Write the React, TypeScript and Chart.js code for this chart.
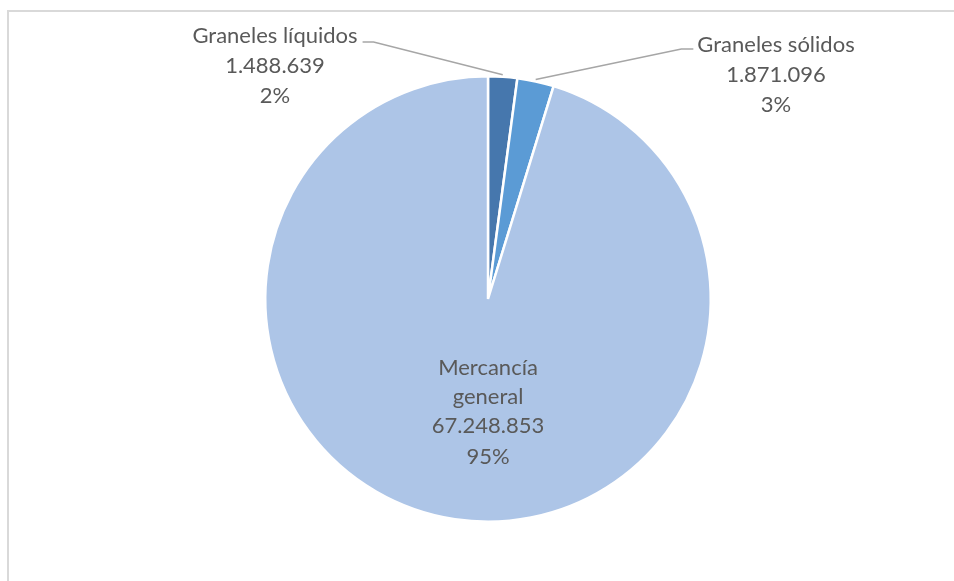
import React, { useEffect, useRef } from "react";
import { Chart, registerables } from "chart.js";

Chart.register(...registerables);

const categories = ["Graneles líquidos", "Graneles sólidos", "Mercancía general"];
const values = [1488639, 1871096, 67248853];
const percentLabels = ["2%", "3%", "95%"];
const valueLabels = ["1.488.639", "1.871.096", "67.248.853"];
const colors = ["#4677ad", "#5b9bd5", "#adc5e7"];

const FONT = "22px Lato, sans-serif";
const TEXT_COLOR = "#595959";

const labelPlugin = {
  id: "pieLabels",
  afterDraw(chart: any) {
    const ctx = chart.ctx;
    const meta = chart.getDatasetMeta(0);
    ctx.save();
    ctx.font = FONT;
    ctx.fillStyle = TEXT_COLOR;
    ctx.textAlign = "center";
    ctx.textBaseline = "middle";
    const lh = 30;

    const arcs = meta.data;
    const edge = (i: number) => {
      const a = arcs[i];
      const mid = (a.startAngle + a.endAngle) / 2;
      return { x: a.x + Math.cos(mid) * a.outerRadius, y: a.y + Math.sin(mid) * a.outerRadius };
    };

    const l0 = { x: 275, y: 36 };
    const l1 = { x: 776, y: 45 };
    [[categories[0], valueLabels[0], percentLabels[0], l0], [categories[1], valueLabels[1], percentLabels[1], l1]].forEach(
      (item: any) => {
        const [c, v, p, pos] = item;
        ctx.fillText(c, pos.x, pos.y);
        ctx.fillText(v, pos.x, pos.y + lh);
        ctx.fillText(p, pos.x, pos.y + lh * 2);
      }
    );

    ctx.strokeStyle = "#a6a6a6";
    ctx.lineWidth = 1.5;
    const w0 = ctx.measureText(categories[0]).width;
    const e0 = edge(0);
    ctx.beginPath();
    ctx.moveTo(l0.x + w0 / 2 + 5, 42);
    ctx.lineTo(l0.x + w0 / 2 + 16, 42);
    ctx.lineTo(e0.x, e0.y - 2);
    ctx.stroke();

    const w1 = ctx.measureText(categories[1]).width;
    const e1 = edge(1);
    ctx.beginPath();
    ctx.moveTo(l1.x - w1 / 2 - 4, 49);
    ctx.lineTo(l1.x - w1 / 2 - 16, 49);
    ctx.lineTo(e1.x, e1.y - 2);
    ctx.stroke();

    const a2 = arcs[2];
    const cx = a2.x;
    const top = 368;
    ctx.fillText("Mercancía", cx, top);
    ctx.fillText("general", cx, top + 29);
    ctx.fillText(valueLabels[2], cx, top + 58);
    ctx.fillText(percentLabels[2], cx, top + 89);
    ctx.restore();
  },
};

const framePlugin = {
  id: "frame",
  beforeDraw(chart: any) {
    const ctx = chart.ctx;
    ctx.save();
    ctx.fillStyle = "#ffffff";
    ctx.fillRect(0, 0, chart.width, chart.height);
    ctx.strokeStyle = "#d9d9d9";
    ctx.lineWidth = 2;
    ctx.beginPath();
    ctx.moveTo(8, chart.height + 5);
    ctx.lineTo(8, 11);
    ctx.lineTo(chart.width + 5, 11);
    ctx.stroke();
    ctx.restore();
  },
};

export default function App() {
  const ref = useRef<HTMLCanvasElement>(null);
  useEffect(() => {
    if (!ref.current) return;
    const chart = new Chart(ref.current, {
      type: "pie",
      data: {
        labels: categories,
        datasets: [
          {
            data: values,
            backgroundColor: colors,
            borderColor: "#ffffff",
            borderWidth: 2.5,
          },
        ],
      },
      options: {
        animation: false,
        responsive: false,
        layout: { padding: { top: 75, bottom: 58, left: 264, right: 242 } },
        plugins: {
          legend: { display: false },
          tooltip: { enabled: false },
        },
      },
      plugins: [framePlugin, labelPlugin],
    });
    return () => chart.destroy();
  }, []);
  return (
    <div style={{ position: "fixed", left: 0, top: 0, width: 954, height: 581, background: "#fff" }}>
      <canvas ref={ref} width={954} height={581} style={{ width: 954, height: 581 }} />
    </div>
  );
}
